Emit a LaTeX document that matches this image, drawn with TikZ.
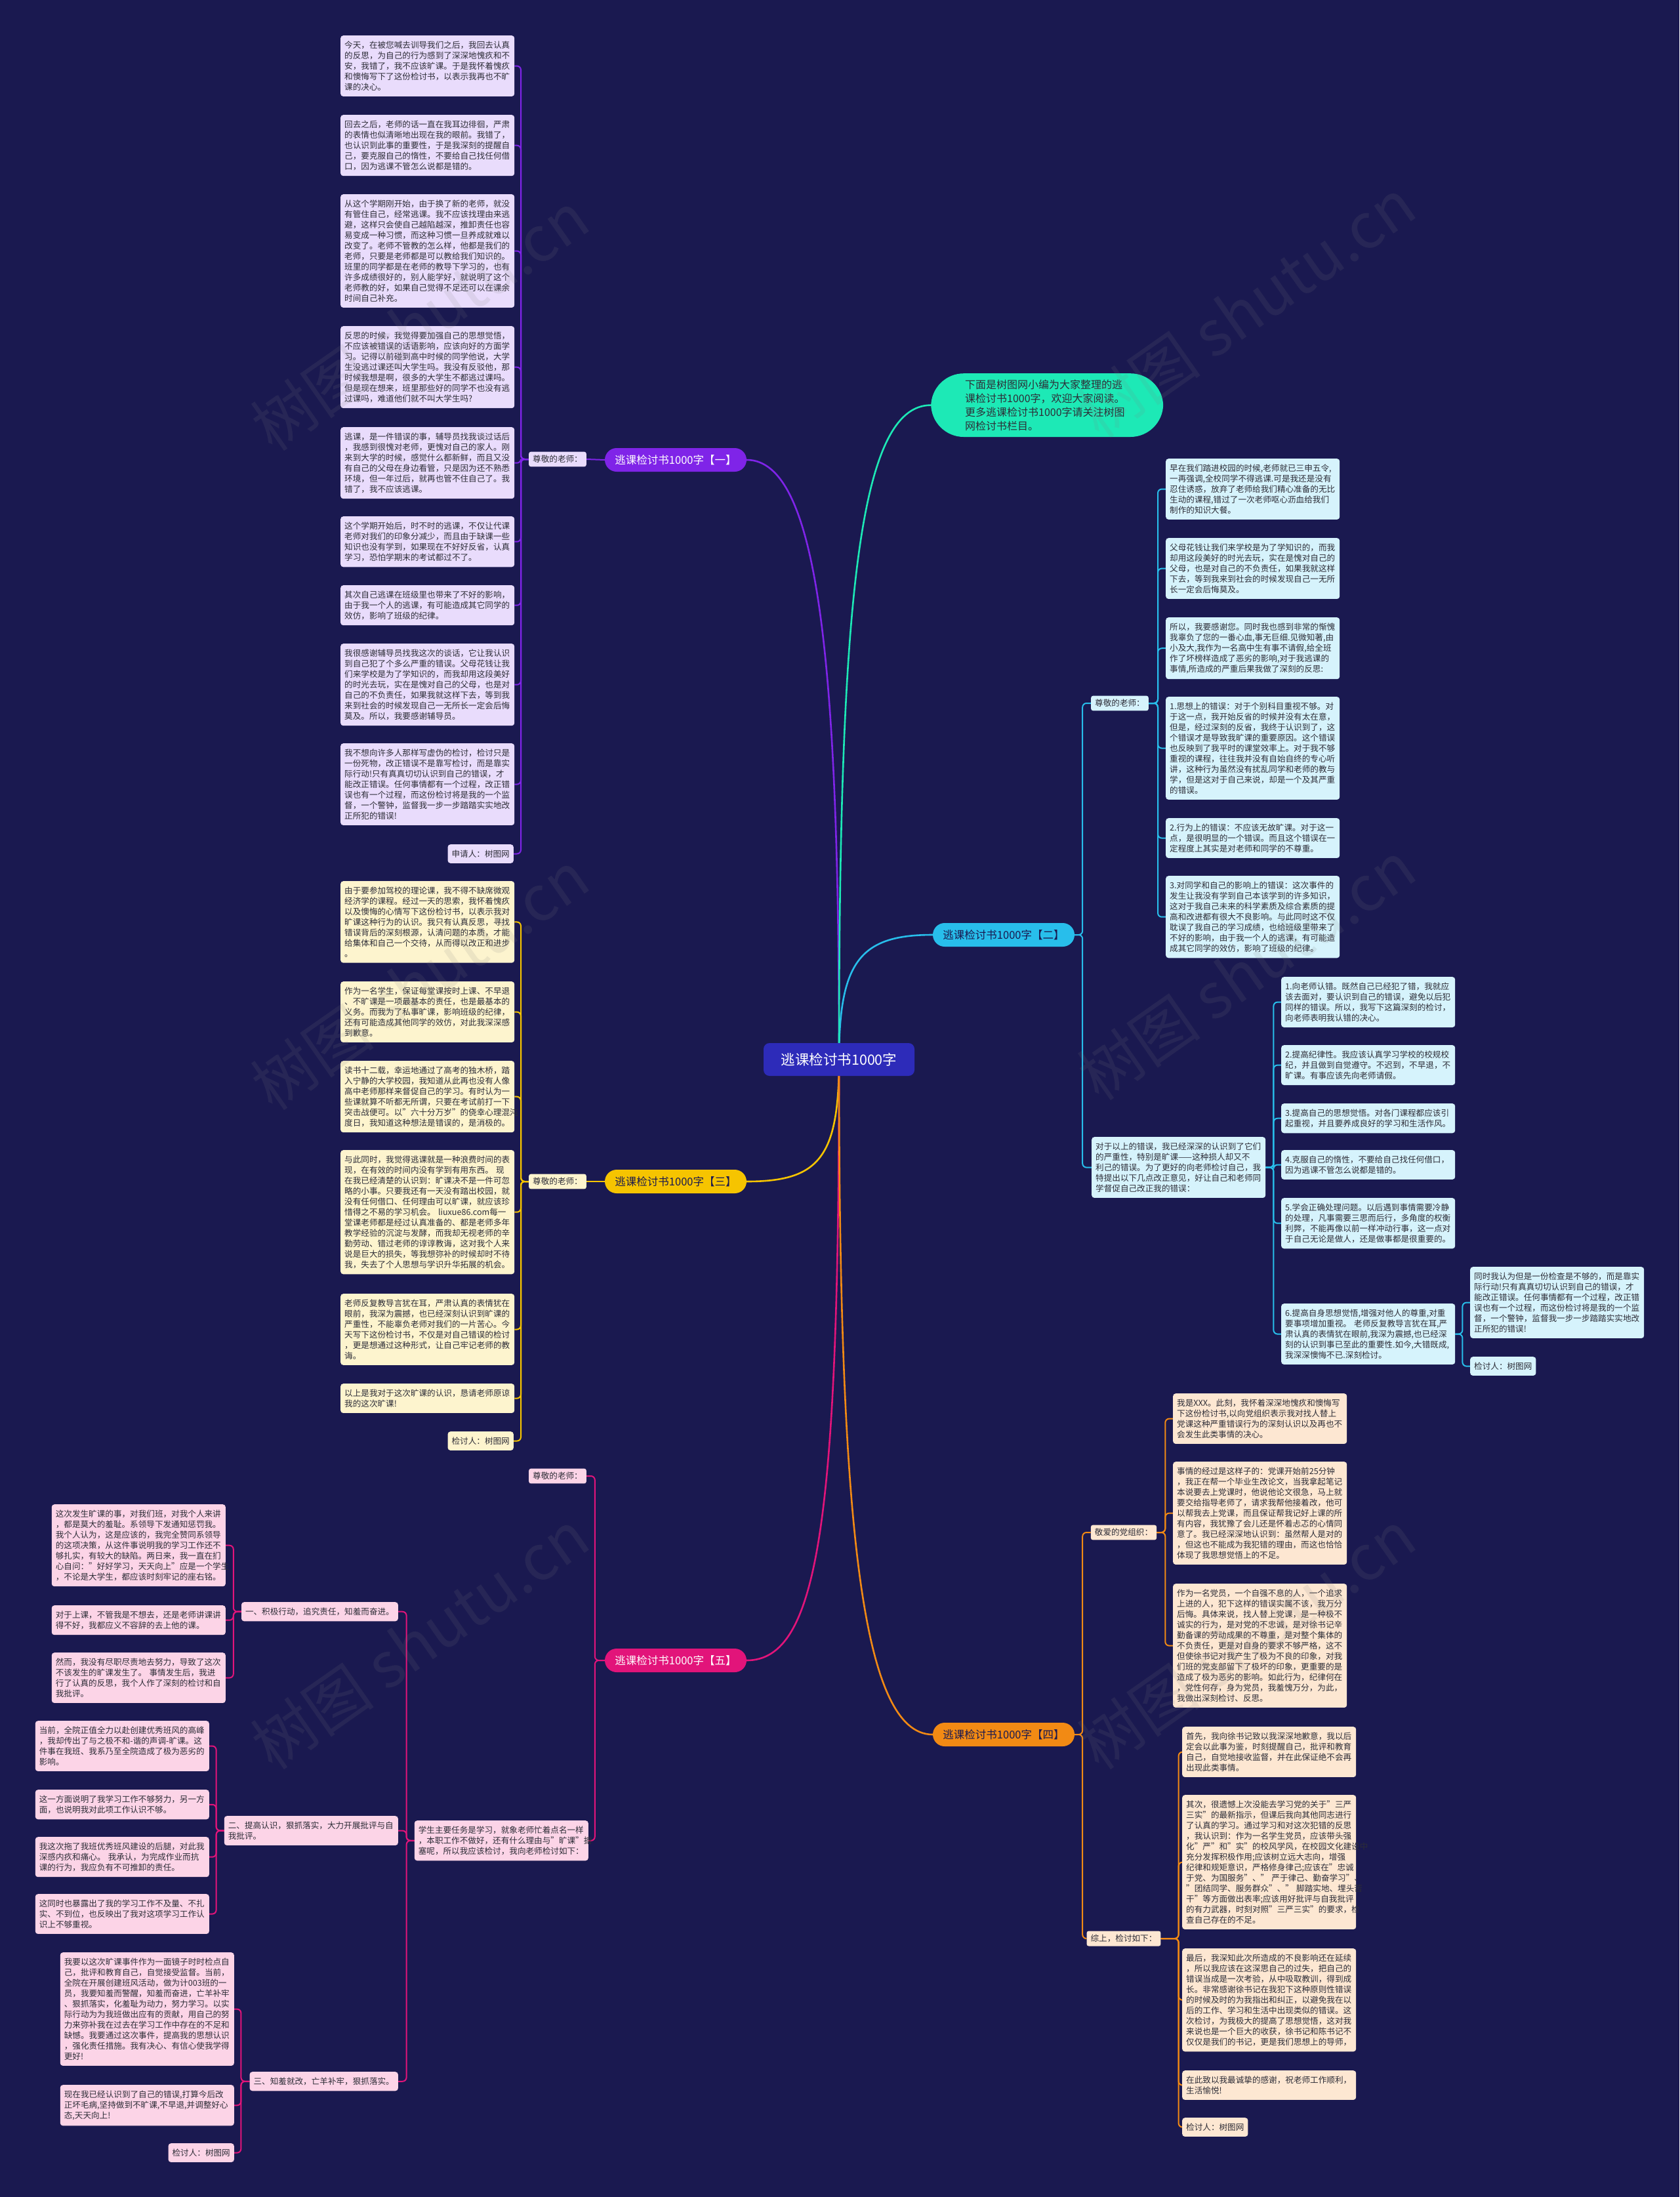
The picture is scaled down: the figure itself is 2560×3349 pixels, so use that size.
\documentclass[tikz,border=0pt]{standalone}
\usepackage{fontspec}
\setmainfont{Noto Sans CJK SC}

\definecolor{bgnavy}{RGB}{26,25,80}
\definecolor{coreblue}{RGB}{45,43,185}
\definecolor{violetk}{RGB}{127,36,232}
\definecolor{lilac}{RGB}{233,220,252}
\definecolor{skyk}{RGB}{40,190,235}
\definecolor{icecyan}{RGB}{214,243,252}
\definecolor{goldk}{RGB}{246,196,0}
\definecolor{creamy}{RGB}{253,244,206}
\definecolor{amberk}{RGB}{242,138,20}
\definecolor{peachy}{RGB}{253,231,210}
\definecolor{rosek}{RGB}{226,20,122}
\definecolor{blush}{RGB}{252,212,231}
\definecolor{mintk}{RGB}{29,233,182}
\definecolor{inkgray}{RGB}{45,45,55}

\newcommand\leaffont{\fontsize{12.6}{16}\selectfont}

\pgfdeclarelayer{links}
\pgfsetlayers{links,main}

\tikzset{
  leaf/.style={rounded corners=4pt, inner xsep=6pt, inner ysep=8.5pt, text width=253pt,
    align=left, font=\leaffont, text=inkgray},
  sig/.style={rounded corners=4pt, inner xsep=6pt, inner ysep=8.5pt, font=\leaffont, text=inkgray},
  tag/.style={rounded corners=3pt, inner xsep=6pt, inner ysep=5.5pt, font=\leaffont, text=inkgray},
  topic/.style={rounded corners=18pt, minimum width=216pt, minimum height=36pt, inner sep=0pt,
    font=\fontsize{16.5}{20}\selectfont},
  core/.style={rounded corners=9pt, fill=coreblue, text=white, minimum width=230pt,
    minimum height=50pt, font=\fontsize{21.5}{26}\selectfont},
  note/.style={rounded corners=50pt, fill=mintk, text=inkgray, inner xsep=52pt, inner ysep=9.5pt,
    text width=250pt, align=left, font=\fontsize{16}{21}\selectfont},
  link/.style={line width=2pt, rounded corners=6pt},
  corelink/.style={line width=2.6pt},
  mark wm/.style={rotate=35, text=gray, opacity=0.13, font=\fontsize{95}{100}\selectfont}
}

\begin{document}
\begin{tikzpicture}[x=1pt, y=-1pt]
\begin{pgfonlayer}{links}
  \fill[bgnavy] (0,0) rectangle (2560,3349);
\end{pgfonlayer}
\useasboundingbox (0,0) rectangle (2560,3349);

% centre and intro
\node[core] (core) at (1279,1615) {逃课检讨书1000字};
\node[note, anchor=north west] (intro) at (1419,569) {下面是树图网小编为大家整理的逃\\课检讨书1000字，欢迎大家阅读。\\更多逃课检讨书1000字请关注树图\\网检讨书栏目。};

% main topics
\node[topic, fill=violetk, text=white] (b1) at (1030,701) {逃课检讨书1000字【一】};
\node[topic, fill=skyk, text=bgnavy] (b2) at (1530,1425) {逃课检讨书1000字【二】};
\node[topic, fill=goldk, text=bgnavy] (b3) at (1030,1801) {逃课检讨书1000字【三】};
\node[topic, fill=amberk, text=bgnavy] (b4) at (1530,2644) {逃课检讨书1000字【四】};
\node[topic, fill=rosek, text=white] (b5) at (1030,2531) {逃课检讨书1000字【五】};

% ---- branch one
\node[tag, fill=lilac] (tg1) at (850,700) {尊敬的老师：};
\begin{scope}[every node/.append style={leaf, fill=lilac, anchor=north west}]
\node (a1) at (519,54) {今天，在被您喊去训导我们之后，我回去认真\\的反思，为自己的行为感到了深深地愧疚和不\\安，我错了，我不应该旷课。于是我怀着愧疚\\和懊悔写下了这份检讨书，以表示我再也不旷\\课的决心。};
\node (a2) at (519,175) {回去之后，老师的话一直在我耳边徘徊，严肃\\的表情也似清晰地出现在我的眼前。我错了，\\也认识到此事的重要性，于是我深刻的提醒自\\己，要克服自己的惰性，不要给自己找任何借\\口，因为逃课不管怎么说都是错的。};
\node (a3) at (519,296) {从这个学期刚开始，由于换了新的老师，就没\\有管住自己，经常逃课。我不应该找理由来逃\\避，这样只会使自己越陷越深，推卸责任也容\\易变成一种习惯，而这种习惯一旦养成就难以\\改变了。老师不管教的怎么样，他都是我们的\\老师，只要是老师都是可以教给我们知识的。\\班里的同学都是在老师的教导下学习的，也有\\许多成绩很好的，别人能学好，就说明了这个\\老师教的好，如果自己觉得不足还可以在课余\\时间自己补充。};
\node (a4) at (519,497) {反思的时候，我觉得要加强自己的思想觉悟，\\不应该被错误的话语影响，应该向好的方面学\\习。记得以前碰到高中时候的同学他说，大学\\生没逃过课还叫大学生吗。我没有反驳他，那\\时候我想是啊，很多的大学生不都逃过课吗。\\但是现在想来，班里那些好的同学不也没有逃\\过课吗，难道他们就不叫大学生吗?};
\node (a5) at (519,651) {逃课，是一件错误的事，辅导员找我谈过话后\\，我感到很愧对老师，更愧对自己的家人。刚\\来到大学的时候，感觉什么都新鲜，而且又没\\有自己的父母在身边看管，只是因为还不熟悉\\环境，但一年过后，就再也管不住自己了。我\\错了，我不应该逃课。};
\node (a6) at (519,787) {这个学期开始后，时不时的逃课，不仅让代课\\老师对我们的印象分减少，而且由于缺课一些\\知识也没有学到，如果现在不好好反省，认真\\学习，恐怕学期末的考试都过不了。};
\node (a7) at (519,892) {其次自己逃课在班级里也带来了不好的影响，\\由于我一个人的逃课，有可能造成其它同学的\\效仿，影响了班级的纪律。};
\node (a8) at (519,981) {我很感谢辅导员找我这次的谈话，它让我认识\\到自己犯了个多么严重的错误。父母花钱让我\\们来学校是为了学知识的，而我却用这段美好\\的时光去玩，实在是愧对自己的父母，也是对\\自己的不负责任，如果我就这样下去，等到我\\来到社会的时候发现自己一无所长一定会后悔\\莫及。所以，我要感谢辅导员。};
\node (a9) at (519,1133) {我不想向许多人那样写虚伪的检讨，检讨只是\\一份死物，改正错误不是靠写检讨，而是靠实\\际行动!只有真真切切认识到自己的错误，才\\能改正错误。任何事情都有一个过程，改正错\\误也有一个过程，而这份检讨将是我的一个监\\督，一个警钟，监督我一步一步踏踏实实地改\\正所犯的错误!};
\end{scope}
\node[sig, fill=lilac, anchor=north east] (a10) at (783,1287) {申请人：树图网};

% ---- branch three
\node[tag, fill=creamy] (tg3) at (850,1801) {尊敬的老师：};
\begin{scope}[every node/.append style={leaf, fill=creamy, anchor=north west}]
\node (m1) at (519,1343) {由于要参加驾校的理论课，我不得不缺席微观\\经济学的课程。经过一天的思索，我怀着愧疚\\以及懊悔的心情写下这份检讨书，以表示我对\\旷课这种行为的认识。我只有认真反思，寻找\\错误背后的深刻根源，认清问题的本质，才能\\给集体和自己一个交待，从而得以改正和进步\\。};
\node (m2) at (519,1496) {作为一名学生，保证每堂课按时上课、不早退\\、不旷课是一项最基本的责任，也是最基本的\\义务。而我为了私事旷课，影响班级的纪律，\\还有可能造成其他同学的效仿，对此我深深感\\到歉意。};
\node (m3) at (519,1617) {读书十二载，幸运地通过了高考的独木桥，踏\\入宁静的大学校园，我知道从此再也没有人像\\高中老师那样来督促自己的学习。有时认为一\\些课就算不听都无所谓，只要在考试前打一下\\突击战便可。以"六十分万岁"的侥幸心理混沌\\度日，我知道这种想法是错误的，是消极的。};
\node (m4) at (519,1753) {与此同时，我觉得逃课就是一种浪费时间的表\\现，在有效的时间内没有学到有用东西。~现\\在我已经清楚的认识到：旷课决不是一件可忽\\略的小事。只要我还有一天没有踏出校园，就\\没有任何借口、任何理由可以旷课，就应该珍\\惜得之不易的学习机会。~liuxue86.com每一\\堂课老师都是经过认真准备的、都是老师多年\\教学经验的沉淀与发酵，而我却无视老师的辛\\勤劳动、错过老师的谆谆教诲，这对我个人来\\说是巨大的损失，等我想弥补的时候却时不待\\我，失去了个人思想与学识升华拓展的机会。};
\node (m5) at (519,1972) {老师反复教导言犹在耳，严肃认真的表情犹在\\眼前，我深为震撼，也已经深刻认识到旷课的\\严重性，不能辜负老师对我们的一片苦心。今\\天写下这份检讨书，不仅是对自己错误的检讨\\，更是想通过这种形式，让自己牢记老师的教\\诲。};
\node (m6) at (519,2109) {以上是我对于这次旷课的认识，恳请老师原谅\\我的这次旷课!};
\end{scope}
\node[sig, fill=creamy, anchor=north east] (m7) at (783,2182) {检讨人：树图网};

% ---- branch two
\node[tag, fill=icecyan] (tg2) at (1707,1072) {尊敬的老师：};
\begin{scope}[every node/.append style={leaf, fill=icecyan, anchor=north west}]
\node (n1) at (1777,699) {早在我们踏进校园的时候,老师就已三申五令,\\一再强调,全校同学不得逃课.可是我还是没有\\忍住诱惑，放弃了老师给我们精心准备的无比\\生动的课程,错过了一次老师呕心沥血给我们\\制作的知识大餐。};
\node (n2) at (1777,820) {父母花钱让我们来学校是为了学知识的，而我\\却用这段美好的时光去玩，实在是愧对自己的\\父母，也是对自己的不负责任，如果我就这样\\下去，等到我来到社会的时候发现自己一无所\\长一定会后悔莫及。};
\node (n3) at (1777,941) {所以，我要感谢您。同时我也感到非常的惭愧\\我辜负了您的一番心血,事无巨细.见微知著,由\\小及大,我作为一名高中生有事不请假,给全班\\作了坏榜样造成了恶劣的影响,对于我逃课的\\事情,所造成的严重后果我做了深刻的反思:};
\node (n4) at (1777,1062) {1.思想上的错误：对于个别科目重视不够。对\\于这一点，我开始反省的时候并没有太在意，\\但是，经过深刻的反省，我终于认识到了，这\\个错误才是导致我旷课的重要原因。这个错误\\也反映到了我平时的课堂效率上。对于我不够\\重视的课程，往往我并没有自始自终的专心听\\讲，这种行为虽然没有扰乱同学和老师的教与\\学，但是这对于自己来说，却是一个及其严重\\的错误。};
\node (n5) at (1777,1247) {2.行为上的错误：不应该无故旷课。对于这一\\点，是很明显的一个错误。而且这个错误在一\\定程度上其实是对老师和同学的不尊重。};
\node (n6) at (1777,1335) {3.对同学和自己的影响上的错误：这次事件的\\发生让我没有学到自己本该学到的许多知识，\\这对于我自己未来的科学素质及综合素质的提\\高和改进都有很大不良影响。与此同时这不仅\\耽误了我自己的学习成绩，也给班级里带来了\\不好的影响，由于我一个人的逃课，有可能造\\成其它同学的效仿，影响了班级的纪律。};
\node (p) at (1664,1733) {对于以上的错误，我已经深深的认识到了它们\\的严重性，特别是旷课——这种损人却又不\\利己的错误。为了更好的向老师检讨自己，我\\特提出以下几点改正意见，好让自己和老师同\\学督促自己改正我的错误：};
\node (q1) at (1953,1489) {1.向老师认错。既然自己已经犯了错，我就应\\该去面对，要认识到自己的错误，避免以后犯\\同样的错误。所以，我写下这篇深刻的检讨，\\向老师表明我认错的决心。};
\node (q2) at (1953,1593) {2.提高纪律性。我应该认真学习学校的校规校\\纪，并且做到自觉遵守。不迟到，不早退，不\\旷课。有事应该先向老师请假。};
\node (q3) at (1953,1682) {3.提高自己的思想觉悟。对各门课程都应该引\\起重视，并且要养成良好的学习和生活作风。};
\node (q4) at (1953,1753) {4.克服自己的惰性，不要给自己找任何借口，\\因为逃课不管怎么说都是错的。};
\node (q5) at (1953,1826) {5.学会正确处理问题。以后遇到事情需要冷静\\的处理，凡事需要三思而后行，多角度的权衡\\利弊，不能再像以前一样冲动行事，这一点对\\于自己无论是做人，还是做事都是很重要的。};
\node (q6) at (1953,1987) {6.提高自身思想觉悟,增强对他人的尊重,对重\\要事项增加重视。~老师反复教导言犹在耳,严\\肃认真的表情犹在眼前,我深为震撼,也已经深\\刻的认识到事已至此的重要性.如今,大错既成,\\我深深懊悔不已.深刻检讨。};
\node (r1) at (2241,1931) {同时我认为但是一份检查是不够的，而是靠实\\际行动!只有真真切切认识到自己的错误，才\\能改正错误。任何事情都有一个过程，改正错\\误也有一个过程，而这份检讨将是我的一个监\\督，一个警钟，监督我一步一步踏踏实实地改\\正所犯的错误!};
\end{scope}
\node[sig, fill=icecyan, anchor=north west] (r2) at (2241,2068) {检讨人：树图网};

% ---- branch four
\node[tag, fill=peachy] (tg4a) at (1713,2336) {敬爱的党组织：};
\node[tag, fill=peachy] (tg4b) at (1713,2955) {综上，检讨如下：};
\begin{scope}[every node/.append style={leaf, fill=peachy, anchor=north west}]
\node (s1) at (1788,2124) {我是XXX。此刻，我怀着深深地愧疚和懊悔写\\下这份检讨书,以向党组织表示我对找人替上\\党课这种严重错误行为的深刻认识以及再也不\\会发生此类事情的决心。};
\node (s2) at (1788,2228) {事情的经过是这样子的：党课开始前25分钟\\，我正在帮一个毕业生改论文，当我拿起笔记\\本说要去上党课时，他说他论文很急，马上就\\要交给指导老师了，请求我帮他接着改，他可\\以帮我去上党课，而且保证帮我记好上课的所\\有内容，我犹豫了会儿还是怀着忐忑的心情同\\意了。我已经深深地认识到：虽然帮人是对的\\，但这也不能成为我犯错的理由，而这也恰恰\\体现了我思想觉悟上的不足。};
\node (s3) at (1788,2414) {作为一名党员，一个自强不息的人，一个追求\\上进的人，犯下这样的错误实属不该，我万分\\后悔。具体来说，找人替上党课，是一种极不\\诚实的行为，是对党的不忠诚，是对徐书记辛\\勤备课的劳动成果的不尊重，是对整个集体的\\不负责任，更是对自身的要求不够严格，这不\\但使徐书记对我产生了极为不良的印象，对我\\们班的党支部留下了极坏的印象，更重要的是\\造成了极为恶劣的影响。如此行为，纪律何在\\，党性何存，身为党员，我羞愧万分，为此，\\我做出深刻检讨、反思。};
\node (t1) at (1802,2632) {首先，我向徐书记致以我深深地歉意，我以后\\定会以此事为鉴，时刻提醒自己，批评和教育\\自己，自觉地接收监督，并在此保证绝不会再\\出现此类事情。};
\node (t2) at (1802,2736) {其次，很遗憾上次没能去学习党的关于"三严\\三实"的最新指示，但课后我向其他同志进行\\了认真的学习。通过学习和对这次犯错的反思\\，我认识到：作为一名学生党员，应该带头强\\化"严"和"实"的校风学风，在校园文化建设中\\充分发挥积极作用;应该树立远大志向，增强\\纪律和规矩意识，严格修身律己;应该在"忠诚\\于党、为国服务"、"~严于律己、勤奋学习"、\\"团结同学、服务群众"、"~脚踏实地、埋头苦\\干"等方面做出表率;应该用好批评与自我批评\\的有力武器，时刻对照"三严三实"的要求，检\\查自己存在的不足。};
\node (t3) at (1802,2970) {最后，我深知此次所造成的不良影响还在延续\\，所以我应该在这深思自己的过失，把自己的\\错误当成是一次考验，从中吸取教训，得到成\\长。非常感谢徐书记在我犯下这种原则性错误\\的时候及时的为我指出和纠正，以避免我在以\\后的工作、学习和生活中出现类似的错误。这\\次检讨，为我极大的提高了思想觉悟，这对我\\来说也是一个巨大的收获，徐书记和陈书记不\\仅仅是我们的书记，更是我们思想上的导师，};
\node (t4) at (1802,3156) {在此致以我最诚挚的感谢，祝老师工作顺利，\\生活愉悦!};
\end{scope}
\node[sig, fill=peachy, anchor=north west] (t5) at (1802,3228) {检讨人：树图网};

% ---- branch five
\node[tag, fill=blush] (tg5) at (850,2250) {尊敬的老师：};
\begin{scope}[every node/.append style={leaf, fill=blush, anchor=north east}]
\node (z) at (897,2775) {学生主要任务是学习，就象老师忙着点名一样\\，本职工作不做好，还有什么理由与"旷课"搪\\塞呢，所以我应该检讨，我向老师检讨如下：};
\node (h2) at (607,2768) {二、提高认识，狠抓落实，大力开展批评与自\\我批评。};
\node (u1) at (344,2293) {这次发生旷课的事，对我们班，对我个人来讲\\，都是莫大的羞耻。系领导下发通知惩罚我。\\我个人认为，这是应该的，我完全赞同系领导\\的这项决策，从这件事说明我的学习工作还不\\够扎实，有较大的缺陷。两日来，我一直在扪\\心自问："好好学习，天天向上"应是一个学生\\，不论是大学生，都应该时刻牢记的座右铭。};
\node (u2) at (344,2447) {对于上课，不管我是不想去，还是老师讲课讲\\得不好，我都应义不容辞的去上他的课。};
\node (u3) at (344,2519) {然而，我没有尽职尽责地去努力，导致了这次\\不该发生的旷课发生了。~事情发生后，我进\\行了认真的反思，我个人作了深刻的检讨和自\\我批评。};
\node (v1) at (319,2623) {当前，全院正值全力以赴创建优秀班风的高峰\\，我却传出了与之极不和-谐的声调-旷课。这\\件事在我班、我系乃至全院造成了极为恶劣的\\影响。};
\node (v2) at (319,2728) {这一方面说明了我学习工作不够努力，另一方\\面，也说明我对此项工作认识不够。};
\node (v3) at (319,2800) {我这次拖了我班优秀班风建设的后腿，对此我\\深感内疚和痛心。~我承认，为完成作业而抗\\课的行为，我应负有不可推卸的责任。};
\node (v4) at (319,2887) {这同时也暴露出了我的学习工作不及量、不扎\\实、不到位，也反映出了我对这项学习工作认\\识上不够重视。};
\node (w1) at (357,2976) {我要以这次旷课事件作为一面镜子时时检点自\\己，批评和教育自己，自觉接受监督。当前，\\全院在开展创建班风活动，做为计003班的一\\员，我要知羞而警醒，知羞而奋进，亡羊补牢\\、狠抓落实，化羞耻为动力，努力学习。以实\\际行动为为我班做出应有的贡献，用自己的努\\力来弥补我在过去在学习工作中存在的不足和\\缺憾。我要通过这次事件，提高我的思想认识\\，强化责任措施。我有决心、有信心使我学得\\更好!};
\node (w2) at (357,3178) {现在我已经认识到了自己的错误,打算今后改\\正坏毛病,坚持做到不旷课,不早退,并调整好心\\态,天天向上!};
\end{scope}
\node[sig, fill=blush, anchor=north east] (h1) at (607,2442) {一、积极行动，追究责任，知羞而奋进。};
\node[sig, fill=blush, anchor=north east] (h3) at (607,3158) {三、知羞就改，亡羊补牢，狠抓落实。};
\node[sig, fill=blush, anchor=north east] (w3) at (357,3267) {检讨人：树图网};

% ---- connectors
\begin{pgfonlayer}{links}
  \draw[corelink, violetk] (core.center) .. controls +(0,-600) and +(110,0) .. (b1.east);
  \draw[corelink, goldk] (core.center) .. controls +(0,150) and +(110,0) .. (b3.east);
  \draw[corelink, rosek] (core.center) .. controls +(0,700) and +(110,0) .. (b5.east);
  \draw[corelink, skyk] (core.center) .. controls +(0,-150) and +(-110,0) .. (b2.west);
  \draw[corelink, amberk] (core.center) .. controls +(0,700) and +(-110,0) .. (b4.west);
  \draw[corelink, mintk] (core.center) .. controls +(0,-700) and +(-110,0) .. (intro.west);

  \draw[link, violetk] (b1.west) -- (tg1.east);
  \foreach \k in {1,...,10} \draw[link, violetk] (tg1.west) -- ++(-12,0) |- (a\k.east);

  \draw[link, goldk] (b3.west) -- (tg3.east);
  \foreach \k in {1,...,7} \draw[link, goldk] (tg3.west) -- ++(-12,0) |- (m\k.east);

  \foreach \k in {tg2,p} \draw[link, skyk] (b2.east) -- ++(12,0) |- (\k.west);
  \foreach \k in {1,...,6} \draw[link, skyk] (tg2.east) -- ++(14,0) |- (n\k.west);
  \foreach \k in {1,...,6} \draw[link, skyk] (p.east) -- ++(12,0) |- (q\k.west);
  \foreach \k in {r1,r2} \draw[link, skyk] (q6.east) -- ++(11,0) |- (\k.west);

  \foreach \k in {tg4a,tg4b} \draw[link, amberk] (b4.east) -- ++(12,0) |- (\k.west);
  \foreach \k in {1,...,3} \draw[link, amberk] (tg4a.east) -- ++(13,0) |- (s\k.west);
  \foreach \k in {1,...,5} \draw[link, amberk] (tg4b.east) -- ++(27,0) |- (t\k.west);

  \foreach \k in {tg5,z} \draw[link, rosek] (b5.west) -- ++(-15,0) |- (\k.east);
  \foreach \k in {h1,h2,h3} \draw[link, rosek] (z.west) -- ++(-12,0) |- (\k.east);
  \foreach \k in {1,...,3} \draw[link, rosek] (h1.west) -- ++(-12,0) |- (u\k.east);
  \foreach \k in {1,...,4} \draw[link, rosek] (h2.west) -- ++(-12,0) |- (v\k.east);
  \foreach \k in {1,...,3} \draw[link, rosek] (h3.west) -- ++(-13,0) |- (w\k.east);
\end{pgfonlayer}

% watermarks
\foreach \wx/\wy in {640/490, 1900/470, 640/1495, 1900/1480, 640/2500, 1900/2500}
  \node[mark wm] at (\wx,\wy) {树图 shutu.cn};
\end{tikzpicture}
\end{document}
